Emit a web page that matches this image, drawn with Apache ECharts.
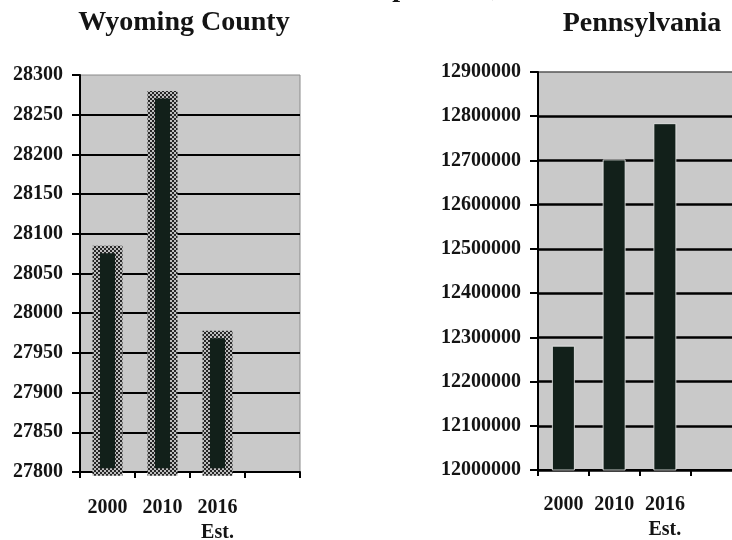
<!DOCTYPE html>
<html>
<head>
<meta charset="utf-8">
<script src="https://cdn.jsdelivr.net/npm/echarts@6/dist/echarts.min.js"></script>
<style>
  html, body { margin: 0; padding: 0; background: #ffffff; }
  #chart { width: 732px; height: 540px; }
</style>
</head>
<body>
<div id="chart"></div>
<script>
// Census years (the fourth slot is an empty category, as on the printed chart)
const years = ['2000', '2010', '2016\nEst.', ''];

// Total population
const wyomingCounty = [28085, 28280, 27978];
const pennsylvania = [12281054, 12702379, 12784227];

// Value-axis ranges: [min, max, step]
const wyomingAxis = [27800, 28300, 50];
const paAxis = [12000000, 12900000, 100000];

const mainTitle = 'Total Population, 2000 - 2016';
const headings = ['Wyoming County', 'Pennsylvania'];

const SERIF = '"Liberation Serif", "Times New Roman", serif';
const INK = '#141414';
const BAR = '#12201a';

// Small dotted texture used for the county bars' frame
function checkerTile() {
  const c = document.createElement('canvas');
  c.width = 4; c.height = 4;
  const g = c.getContext('2d');
  g.fillStyle = '#bdbdbd';
  g.fillRect(0, 0, 4, 4);
  g.fillStyle = '#262626';
  g.fillRect(0, 0, 2, 2);
  g.fillRect(2, 2, 2, 2);
  return c;
}

function valueAxis(gridIndex, range) {
  return {
    type: 'value',
    gridIndex: gridIndex,
    min: range[0],
    max: range[1],
    interval: range[2],
    axisLine: { show: true, lineStyle: { color: '#000', width: 2 } },
    axisTick: { show: true, length: 8, lineStyle: { color: '#000', width: 2 } },
    axisLabel: {
      margin: 17,
      color: INK,
      fontFamily: SERIF,
      fontWeight: 'bold',
      fontSize: 20,
      formatter: v => String(v)
    },
    splitLine: {
      show: true,
      showMaxLine: false,
      lineStyle: { color: '#000', width: gridIndex === 0 ? 2 : 2.5 }
    }
  };
}

function categoryAxis(gridIndex, margin) {
  return {
    type: 'category',
    gridIndex: gridIndex,
    data: years,
    boundaryGap: true,
    axisLine: { show: true, lineStyle: { color: '#000', width: 2 } },
    axisTick: { show: true, length: 6, interval: 0, lineStyle: { color: '#000', width: 2 } },
    axisLabel: {
      interval: 0,
      margin: margin,
      color: INK,
      fontFamily: SERIF,
      fontWeight: 'bold',
      fontSize: 20,
      lineHeight: 25
    }
  };
}

const chart = echarts.init(document.getElementById('chart'), null, { renderer: 'canvas' });

chart.setOption({
  animation: false,
  backgroundColor: '#ffffff',
  grid: [
    {
      left: 80, top: 75, width: 220, height: 397,
      outerBoundsMode: 'none', containLabel: false,
      show: true, backgroundColor: '#c9c9c9', borderColor: '#8a8a8a', borderWidth: 1
    },
    {
      left: 538, top: 72, width: 203, height: 398,
      outerBoundsMode: 'none', containLabel: false,
      show: true, backgroundColor: '#c9c9c9', borderColor: '#555555', borderWidth: 1.5
    }
  ],
  xAxis: [categoryAxis(0, 23), categoryAxis(1, 22)],
  yAxis: [valueAxis(0, wyomingAxis), valueAxis(1, paAxis)],
  series: [
    {
      type: 'bar',
      xAxisIndex: 0,
      yAxisIndex: 0,
      data: wyomingCounty,
      barWidth: 30,
      itemStyle: {
        color: BAR,
        borderColor: { image: checkerTile(), repeat: 'repeat' },
        borderWidth: 7.5
      },
      emphasis: { disabled: true }
    },
    {
      type: 'bar',
      xAxisIndex: 1,
      yAxisIndex: 1,
      data: pennsylvania,
      barWidth: 23,
      itemStyle: {
        color: BAR,
        borderColor: 'rgba(240,240,240,0.8)',
        borderWidth: 1
      },
      emphasis: { disabled: true }
    }
  ],
  graphic: [
    {
      type: 'text', x: 293, y: -11.5, silent: true,
      style: {
        text: mainTitle, fill: INK,
        font: 'bold 28px ' + SERIF,
        align: 'left', verticalAlign: 'middle'
      }
    },
    {
      type: 'text', x: 184, y: 23, silent: true,
      style: {
        text: headings[0], fill: INK,
        font: 'bold 28px ' + SERIF,
        align: 'center', verticalAlign: 'middle'
      }
    },
    {
      type: 'text', x: 642, y: 24, silent: true,
      style: {
        text: headings[1], fill: INK,
        font: 'bold 28px ' + SERIF,
        align: 'center', verticalAlign: 'middle'
      }
    }
  ]
});
</script>
</body>
</html>
